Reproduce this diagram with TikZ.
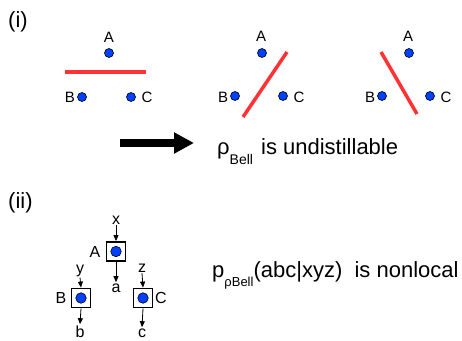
\documentclass[tikz,border=0pt]{standalone}
\usepackage{fontspec}
\setmainfont{Liberation Sans}
\usetikzlibrary{arrows.meta}
\definecolor{dotblue}{RGB}{0,64,255}
\definecolor{cutred}{RGB}{255,51,51}
\tikzset{
  party/.style={circle,fill=dotblue,draw=black,line width=0.6pt,minimum size=9pt,inner sep=0pt},
  inparty/.style={party,minimum size=10.5pt},
  lbl/.style={inner sep=1pt,font=\fontsize{15}{15}\selectfont},
  lblii/.style={inner sep=1pt,font=\fontsize{16}{16}\selectfont},
  big/.style={inner sep=0pt,font=\fontsize{22}{26}\selectfont},
  cut/.style={draw=cutred,line width=3.5pt},
  devbox/.style={draw=black,line width=1.8pt,minimum size=19pt,inner sep=0pt,fill=white},
  io/.style={-{Triangle[length=6pt,width=5pt]},line width=0.8pt},
  bigarrow/.style={line width=8.5pt,-{Triangle[length=20pt,width=20pt]}}
}
\begin{document}
\begin{tikzpicture}[x=1pt,y=-1pt]
\useasboundingbox (0,0) rectangle (462,340);
% (i)
\node[big,anchor=west] (li) at (8,22) {(i)};
% group 1
\node[party] (a1) at (109,53) {};
\node[party] (b1) at (82,97) {};
\node[party] (c1) at (131,97) {};
\node[lbl] (la1) at (109,37) {A};
\node[lbl] (lb1) at (70,97) {B};
\node[lbl] (lc1) at (147,97) {C};
\coordinate (r1s) at (65,72);
\coordinate (r1e) at (146,72);
\draw[cut] (r1s) -- (r1e);
% group 2
\node[party] (a2) at (262,53) {};
\node[party] (b2) at (235,96) {};
\node[party] (c2) at (283,96) {};
\node[lbl] (la2) at (261,36) {A};
\node[lbl] (lb2) at (223,97) {B};
\node[lbl] (lc2) at (299,97) {C};
\coordinate (r2s) at (287,52);
\coordinate (r2e) at (243,117);
\draw[cut] (r2s) -- (r2e);
% group 3
\node[party] (a3) at (409,53) {};
\node[party] (b3) at (382,96) {};
\node[party] (c3) at (430,96) {};
\node[lbl] (la3) at (408,36) {A};
\node[lbl] (lb3) at (370,97) {B};
\node[lbl] (lc3) at (446,97) {C};
\coordinate (r3s) at (381,52);
\coordinate (r3e) at (417,114);
\draw[cut] (r3s) -- (r3e);
% big arrow
\coordinate (bas) at (120,143);
\coordinate (bae) at (194,143);
\draw[bigarrow] (bas) -- (bae);
\node[big,anchor=base west] (t1) at (217,154) {ρ\raisebox{-10pt}{\fontsize{14}{14}\selectfont Bell}\hspace{2pt} is undistillable};
% (ii)
\node[big,anchor=west] (lii) at (8,203) {(ii)};
\node[devbox] (bA) at (116,251.5) {};
\node[inparty] at (bA) {};
\node[devbox] (bB) at (81,298) {};
\node[inparty] at (bB) {};
\node[devbox] (bC) at (143,298) {};
\node[inparty] at (bC) {};
\node[lblii] (nA) at (95,252) {A};
\node[lblii] (nB) at (61,298) {B};
\node[lblii] (nC) at (161,298) {C};
\node[lblii,anchor=base] (x) at (116,224) {x};
\node[lblii,anchor=base] (y) at (80,273) {y};
\node[lblii,anchor=base] (z) at (142,272) {z};
\node[lblii,anchor=base] (a) at (116,292) {a};
\node[lblii,anchor=base] (b) at (80,337) {b};
\node[lblii,anchor=base] (c) at (142,337) {c};
\draw[io] (x.south) -- (bA.north);
\draw[io] (y.south) -- (bB.north);
\draw[io] (z.south) -- (bC.north);
\draw[io] (bA.south) -- (a.north);
\draw[io] (bB.south) -- (b.north);
\draw[io] (bC.south) -- (c.north);
\node[big,anchor=base west] (t2) at (212,277) {p\raisebox{-9pt}{\fontsize{13}{13}\selectfont ρBell}(abc|xyz)\ \ is nonlocal};
\end{tikzpicture}
\end{document}
